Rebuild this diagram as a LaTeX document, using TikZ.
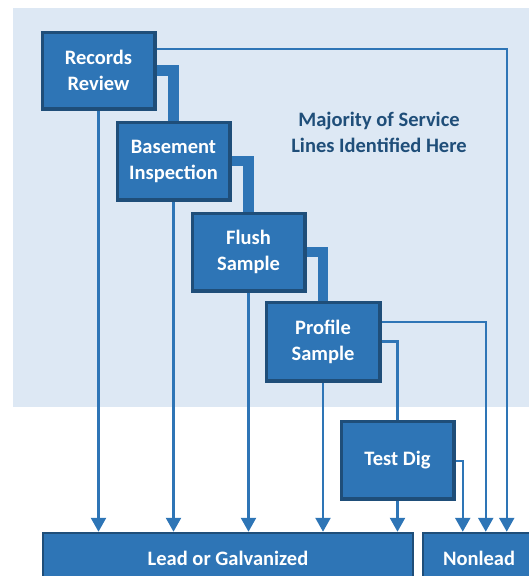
\documentclass[tikz,border=0pt]{standalone}
\usepackage{fontspec}
\setmainfont{Carlito}
\usetikzlibrary{arrows.meta}
\definecolor{panel}{HTML}{DDE8F4}
\definecolor{boxfill}{HTML}{2E75B6}
\definecolor{boxedge}{HTML}{1F4E79}
\definecolor{wire}{HTML}{2E75B6}
\tikzset{
  stepbox/.style={draw=boxedge, fill=boxfill, line width=2.5pt, text=white,
    align=center, inner sep=0pt, font=\bfseries\fontsize{20.5}{26}\selectfont},
  handoff/.style={draw=boxfill, line width=10.5pt},
  feed/.style={draw=wire, line width=2.5pt,
    -{Triangle[width=15pt,length=14pt]}},
  plain/.style={draw=wire, line width=2.5pt},
}
\begin{document}
\begin{tikzpicture}[x=1pt, y=-1pt]
\useasboundingbox (0,0) rectangle (529,576);
\clip (0,0) rectangle (529,576);

% shaded region
\fill[panel] (13,8) rectangle (529,407);
\node[text=boxedge, align=center, font=\bfseries\fontsize{20.5}{26}\selectfont]
  (note) at (379,132) {Majority of Service\\Lines Identified Here};

% process steps
\node[stepbox, minimum width=111pt, minimum height=75pt] (rec) at (98.5,70.5) {Records\\Review};
\node[stepbox, minimum width=111pt, minimum height=76pt] (bas) at (173.5,161) {Basement\\Inspection};
\node[stepbox, minimum width=111pt, minimum height=76pt] (flu) at (248.5,252) {Flush\\Sample};
\node[stepbox, minimum width=112pt, minimum height=77pt] (pro) at (323,341.5) {Profile\\Sample};
\node[stepbox, minimum width=111pt, minimum height=76pt] (dig) at (397.5,460) {Test Dig};

% outcomes
\node[stepbox, minimum width=370pt, minimum height=50pt] (lead) at (228,558) {Lead or Galvanized};
\node[stepbox, minimum width=112pt, minimum height=50pt] (non) at (479,558) {Nonlead};

% thick hand-offs between steps
\path[handoff] (rec.east) -| (bas.north);
\path[handoff] (bas.east) -| (flu.north);
\path[handoff] (flu.east) -| (pro.north);

% outcomes: lead or galvanized
\path[feed] (rec.south) -- (rec.south |- lead.north);
\path[feed] (bas.south) -- (bas.south |- lead.north);
\path[feed] (flu.south) -- (flu.south |- lead.north);
\path[feed] (pro.south) -- (pro.south |- lead.north);
\path[feed] (dig.south) -- (dig.south |- lead.north);

% outcomes: nonlead
\path[feed] ([yshift=21.5pt]rec.east) -| ([xshift=85pt]non.north west);
\path[feed] ([yshift=19.5pt]pro.east) -| ([xshift=64pt]non.north west);
\path[feed] ([yshift=-1pt]dig.east) -| ([xshift=41pt]non.north west);

% profile sample to test dig
\path[plain] (pro.east) -| (dig.north);

% redraw boxes over line ends
\foreach \n in {rec,bas,flu,pro,dig}{
  \draw[draw=boxedge, line width=2.5pt] (\n.north west) rectangle (\n.south east);
}
\end{tikzpicture}
\end{document}
